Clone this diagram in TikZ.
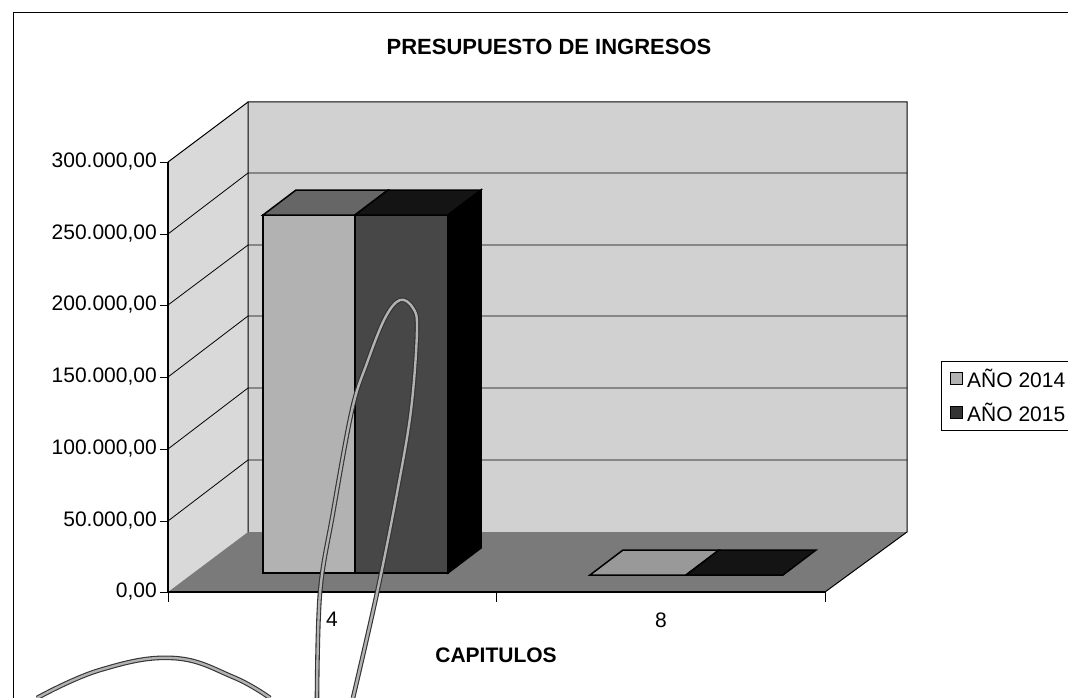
\documentclass[tikz,border=0pt]{standalone}
\usepackage{fontspec}
\setmainfont{Liberation Sans}
\usepackage{tikz}

\begin{document}
\begin{tikzpicture}[x=1pt,y=-1pt]
\tikzstyle{every node}+=[inner sep=0pt]
\tikzstyle{lbl}=[font=\fontsize{21}{25}\selectfont]
\tikzstyle{pen}=[draw=black!80, double=black!30, double distance=2.4pt, line width=1.1pt]
\useasboundingbox (0,0) rectangle (1068,698);
\fill [white] (0,0) rectangle (1068,698);
\draw [black, line width=1pt] (13,698) -- (13,13) -- (1068,13);
\draw (549,47) node (title) {\fontsize{22}{26}\selectfont\bfseries PRESUPUESTO DE INGRESOS};
\fill [black!18] (248,102) rectangle (907,532);
\fill [black!15] (168,592) -- (168,162) -- (248,102) -- (248,532) -- cycle;
\fill [black!52] (168,592) -- (248,532) -- (907,532) -- (825,592) -- cycle;
\draw [black, line width=1pt] (248,532) -- (248,102) -- (907,102) -- (907,532) -- (825,592);
\draw [black, line width=1pt] (168,162) -- (248,102);
\draw [black, line width=0.8pt] (168,234) -- (248,173) -- (907,173);
\draw [black, line width=0.8pt] (168,305) -- (248,245) -- (907,245);
\draw [black, line width=0.8pt] (168,377) -- (248,316) -- (907,316);
\draw [black, line width=0.8pt] (168,449) -- (248,388) -- (907,388);
\draw [black, line width=0.8pt] (168,521) -- (248,460) -- (907,460);
\draw [black, line width=1.3pt] (168,162) -- (168,592) -- (825,592);
\draw [black] (160,162) -- (168,162);
\draw [black] (160,234) -- (168,234);
\draw [black] (160,305) -- (168,305);
\draw [black] (160,377) -- (168,377);
\draw [black] (160,449) -- (168,449);
\draw [black] (160,521) -- (168,521);
\draw [black] (160,592) -- (168,592);
\draw [black] (168,592) -- (168,602);
\draw [black] (496,592) -- (496,602);
\draw [black] (825,592) -- (825,602);
\node [lbl, anchor=east] (v300) at (157,162) {300.000,00};
\node [lbl, anchor=east] (v250) at (157,234) {250.000,00};
\node [lbl, anchor=east] (v200) at (157,305) {200.000,00};
\node [lbl, anchor=east] (v150) at (157,377) {150.000,00};
\node [lbl, anchor=east] (v100) at (157,449) {100.000,00};
\node [lbl, anchor=east] (v50) at (157,521) {50.000,00};
\node [lbl, anchor=east] (v0) at (157,592) {0,00};
\draw [black, line width=1.5pt, fill=black!30] (263,573) rectangle (355,215);
\draw [black, line width=1.5pt, fill=black!60] (263,215) -- (355,215) -- (388,190) -- (296,190) -- cycle;
\draw [black, line width=1.5pt, fill=black!72] (355,573) rectangle (448,215);
\draw [black, line width=1.5pt, fill=black!92] (355,215) -- (448,215) -- (481,190) -- (388,190) -- cycle;
\draw [black, line width=1.5pt, fill=black] (448,573) -- (448,215) -- (481,190) -- (481,548) -- cycle;
\draw [black, line width=1.5pt, fill=black!40] (590,575) -- (686,575) -- (719,550) -- (623,550) -- cycle;
\draw [black, line width=1.5pt, fill=black!92] (686,575) -- (783,575) -- (816,550) -- (719,550) -- cycle;
\node [lbl] (cat4) at (332,619) {4};
\node [lbl] (cat8) at (661,620) {8};
\node [lbl, font=\fontsize{21}{25}\selectfont\bfseries] (xtitle) at (496,655) {CAPITULOS};
\draw [black] (941,361) rectangle (1075,430);
\draw [black, fill=black!30] (950,372) rectangle (962,384);
\draw [black, fill=black!80] (950,406) rectangle (962,418);
\node [lbl, anchor=west] (leg14) at (967,378) {AÑO 2014};
\node [lbl, anchor=west] (leg15) at (967,412) {AÑO 2015};
\draw [pen] plot [smooth, tension=0.6] coordinates {(317,698) (320,593) (333,513) (352,410) (367,363) (385,318) (400,300) (413,308) (417,330) (411,410) (397,493) (377,593) (353,698)};
\draw [pen] plot [smooth, tension=0.7] coordinates {(37,698) (100,670) (173,658) (233,677) (270,698)};
\end{tikzpicture}
\end{document}
